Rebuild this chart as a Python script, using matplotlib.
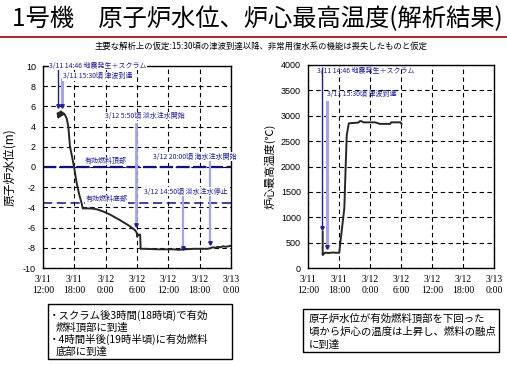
"""
1号機 原子炉水位・炉心最高温度（解析結果）の再現
"""
import matplotlib.pyplot as plt
from matplotlib.patches import Rectangle
from matplotlib.lines import Line2D

plt.rcParams['font.family'] = ['Noto Sans CJK JP', 'DejaVu Sans']

# 時刻は 3/11 0:00 からの経過時間 [h]
tick_hours = [12, 18, 24, 30, 36, 42, 48]
tick_labels = ['3/11\n12:00', '3/11\n18:00', '3/12\n0:00', '3/12\n6:00',
               '3/12\n12:00', '3/12\n18:00', '3/13\n0:00']

# 原子炉水位 (m)
level_t = [14.8, 14.95, 15.1, 15.25, 15.4, 15.55, 15.7, 15.85, 16.0, 16.21,
           16.53, 16.85, 17.17, 17.5, 17.94, 18.45, 18.96, 19.41, 19.6, 20.5,
           21.5, 22.4, 23.5, 24.8, 26.7, 28.6, 29.6, 29.95, 30.05, 30.15,
           30.6, 30.7, 31.5, 34.0, 37.0, 38.0, 39.0, 41.0, 43.5, 44.0,
           44.5, 45.0, 45.5, 46.0, 46.5, 47.0, 47.5, 48.0]
level_v = [5.3, 4.9, 5.4, 5.0, 5.5, 5.1, 5.4, 5.2, 5.3, 5.15,
           4.82, 4.0, 2.0, 1.19, 0.03, -1.6, -2.77, -3.6, -4.1, -4.1,
           -4.12, -4.2, -4.4, -4.7, -5.25, -5.85, -6.25, -6.5, -6.9, -6.7,
           -6.7, -8.1, -8.1, -8.15, -8.15, -8.2, -8.15, -8.1, -8.1, -8.05,
           -7.95, -8.0, -7.9, -7.95, -7.85, -7.9, -7.85, -7.8]

# 炉心最高温度 (℃)
temp_t = [14.84, 14.84, 15.3, 16.0, 16.8, 17.5, 18.05, 18.2, 19.03, 19.3,
          19.5, 19.9, 21.0, 21.7, 22.1, 22.4, 22.7, 25.0, 25.9, 27.9,
          28.1, 29.9, 30.1]
temp_v = [716, 256, 302, 295, 305, 300, 300, 450, 1176, 2030,
          2620, 2851, 2860, 2864, 2897, 2890, 2870, 2870, 2840, 2840,
          2870, 2870, 2840]

fuel_top = 0.0
fuel_bottom = -3.6

NAVY = '#1e1e9a'
LIGHT = '#a3a3f0'
DARK = '#262626'


def style_axes(ax):
    ax.set_xlim(12, 48)
    ax.set_xticks(tick_hours)
    ax.set_xticklabels(tick_labels, fontsize=7, family='Liberation Serif',
                       linespacing=1.25)
    ax.tick_params(length=0, pad=5)
    ax.grid(True, color='black', linestyle=(0, (4, 3)), lw=0.8)
    for s in ax.spines.values():
        s.set_linewidth(1.0)


def event_line(ax, x, y0, y1, color, lw):
    ax.plot([x, x], [y0, y1], color=color, lw=lw, zorder=3)
    ax.plot([x], [y1], marker='v', color=NAVY, markersize=2.5, zorder=4)


fig = plt.figure(figsize=(5.07, 3.65), dpi=100)

# タイトル
fig.text(0.507, 0.948, '1号機　原子炉水位、炉心最高温度(解析結果)',
         ha='center', va='center', fontsize=17.5)
fig.add_artist(Line2D([0, 1], [1 - 37 / 365] * 2, color='#b02424', lw=1.4))
fig.text(0.515, 1 - 46 / 365,
         '主要な解析上の仮定:15:30頃の津波到達以降、非常用復水系の機能は喪失したものと仮定',
         ha='center', va='center', fontsize=6)

# ---- 左: 原子炉水位 ----
ax1 = fig.add_axes([43 / 507, 1 - 268 / 365, 188 / 507, 202 / 365])
style_axes(ax1)
ax1.set_ylim(-10, 10)
ax1.set_yticks(range(-10, 11, 2))
ax1.set_yticklabels([str(v) for v in range(-10, 11, 2)], fontsize=6.5,
                    family='Liberation Sans')
ax1.set_ylabel('原子炉水位(m)', fontsize=8.5, labelpad=5)

ax1.axhline(fuel_top, color='#101080', lw=1.6, linestyle=(0, (6, 1.5)), zorder=2)
ax1.axhline(fuel_bottom, color='#101080', lw=1.1, linestyle=(0, (6, 3)), zorder=2)
ax1.plot(level_t, level_v, color=DARK, lw=1.4, zorder=5)

event_line(ax1, 14.85, 10, 6.0, NAVY, 1.0)
event_line(ax1, 15.6, 8.7, 6.0, LIGHT, 2.2)
event_line(ax1, 29.83, 4.3, -5.75, LIGHT, 2.0)
event_line(ax1, 38.83, -2.9, -8.0, LIGHT, 1.6)
event_line(ax1, 44.0, 0.5, -7.5, LIGHT, 1.6)

ann = dict(fontsize=5, color=NAVY, va='center', ha='left', zorder=6)
wb = dict(facecolor='white', edgecolor='none', pad=0.3)
ax1.text(13.15, 10, '3/11 14:46 地震発生＋スクラム', bbox=wb, clip_on=False, **ann)
ax1.text(15.77, 9.0, '3/11 15:30頃 津波到達', bbox=wb, **ann)
ax1.text(23.9, 5.05, '3/12 5:50頃 淡水注水開始', bbox=wb, **ann)
ax1.text(20.0, 0.6, '有効燃料頂部', bbox=wb, **ann)
ax1.text(33.0, 1.0, '3/12 20:00頃 海水注水開始', bbox=wb, **ann)
ax1.text(31.35, -2.45, '3/12 14:50頃 淡水注水停止', bbox=wb, **ann)
ax1.text(20.2, -3.2, '有効燃料底部', bbox=wb, **ann)

# ---- 右: 炉心最高温度 ----
ax2 = fig.add_axes([308 / 507, 1 - 268 / 365, 186 / 507, 203 / 365])
style_axes(ax2)
ax2.set_ylim(0, 4000)
ax2.set_yticks(range(0, 4001, 500))
ax2.set_yticklabels([str(v) for v in range(0, 4001, 500)], fontsize=6.5,
                    family='Liberation Sans')
ax2.set_ylabel('炉心最高温度(℃)', fontsize=8, labelpad=4)

ax2.plot(temp_t, temp_v, color=DARK, lw=1.4, zorder=5)
event_line(ax2, 14.77, 3950, 780, NAVY, 1.0)
event_line(ax2, 15.6, 3280, 420, LIGHT, 2.2)
ax2.text(13.7, 3880, '3/11 14:46 地震発生＋スクラム', **ann)
ax2.text(15.7, 3430, '3/11 15:30頃 津波到達', **ann)

# ---- 説明ボックス ----
fig.add_artist(Rectangle((48 / 507, 1 - 359 / 365), 184 / 507, 55 / 365,
                         transform=fig.transFigure, fill=False,
                         edgecolor='black', lw=1.0))
left_lines = ['・スクラム後3時間(18時頃)で有効', '燃料頂部に到達',
              '・4時間半後(19時半頃)に有効燃料', '底部に到達']
for i, s in enumerate(left_lines):
    x0 = 49 if s.startswith('・') else 56
    fig.text(x0 / 507, 1 - (315 + i * 12.3) / 365, s, fontsize=7.5,
             va='center', ha='left')

fig.add_artist(Rectangle((303 / 507, 1 - 352 / 365), 196 / 507, 43 / 365,
                         transform=fig.transFigure, fill=False,
                         edgecolor='black', lw=1.0))
right_lines = ['原子炉水位が有効燃料頂部を下回った',
               '頃から炉心の温度は上昇し、燃料の融点',
               'に到達']
for i, s in enumerate(right_lines):
    fig.text(309 / 507, 1 - (319 + i * 12.8) / 365, s, fontsize=7.5,
             va='center', ha='left')

plt.savefig('out.png', dpi=100)
